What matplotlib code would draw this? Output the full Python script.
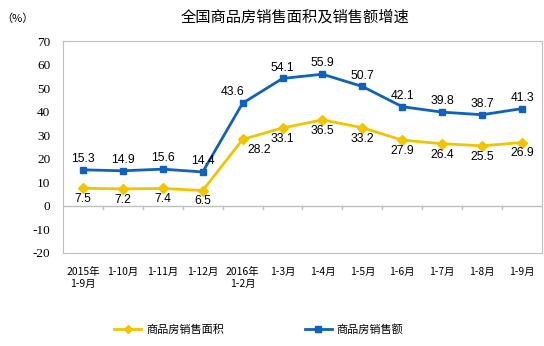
import matplotlib.pyplot as plt

plt.rcParams['font.family'] = ['Noto Sans CJK SC', 'DejaVu Sans']

months = ['2015年\n1-9月', '1-10月', '1-11月', '1-12月', '2016年\n1-2月', '1-3月',
          '1-4月', '1-5月', '1-6月', '1-7月', '1-8月', '1-9月']
area = [7.5, 7.2, 7.4, 6.5, 28.2, 33.1, 36.5, 33.2, 27.9, 26.4, 25.5, 26.9]
sales = [15.3, 14.9, 15.6, 14.4, 43.6, 54.1, 55.9, 50.7, 42.1, 39.8, 38.7, 41.3]
yticks = [70, 60, 50, 40, 30, 20, 10, 0, -10, -20]

yellow = '#F4C400'
blue = '#0F62BE'
grey = '#BFBFBF'

fig = plt.figure(figsize=(5.44, 3.46), dpi=100)
ax = fig.add_axes([0.1158, 0.2688, 0.8805, 0.6127])

x = list(range(len(months)))
ax.plot(x, area, color=yellow, lw=2, marker='D', ms=5, label='商品房销售面积')
ax.plot(x, sales, color=blue, lw=2, marker='s', ms=5, label='商品房销售额')

# a few labels are nudged sideways so they clear the steep segment
shift_area = {4: 12}
shift_sales = {4: -7}
for i in x:
    ax.annotate(f'{area[i]}', (i, area[i]), xytext=(shift_area.get(i, 0), -3.5),
                textcoords='offset points', ha='center', va='top',
                fontsize=8.7, family='Liberation Sans')
    ax.annotate(f'{sales[i]}', (i, sales[i]), xytext=(shift_sales.get(i, 0), 3.5),
                textcoords='offset points', ha='center', va='bottom',
                fontsize=8.7, family='Liberation Sans')

ax.set_xlim(-0.5, len(months) - 0.5)
ax.set_ylim(-20, 70)
ax.set_yticks(yticks)
ax.set_yticklabels([str(v) for v in yticks], family='Liberation Serif', fontsize=9.5)
ax.set_xticks(x)
ax.set_xticklabels(months, fontsize=7.5, linespacing=1.25)
ax.tick_params(axis='x', length=0, pad=10)
ax.tick_params(axis='y', length=0, pad=9)
for s in ax.spines.values():
    s.set_color(grey)

# zero line with small ticks between the categories
ax.axhline(0, color=grey, lw=1, zorder=1)
for b in range(1, len(months)):
    ax.plot([b - 0.5, b - 0.5], [0, -1.5], color=grey, lw=1, zorder=1)

fig.text(0.543, 0.951, '全国商品房销售面积及销售额增速', ha='center', va='center', fontsize=11)
fig.text(0.002, 0.945, '（%）', ha='left', va='center', fontsize=8)

fig.legend(loc='center', bbox_to_anchor=(0.476, 0.049), ncol=2, frameon=False,
           fontsize=8, handlelength=2.4, handletextpad=0.45, columnspacing=7.3,
           markerscale=0.8)

fig.savefig('out.png', dpi=100)
